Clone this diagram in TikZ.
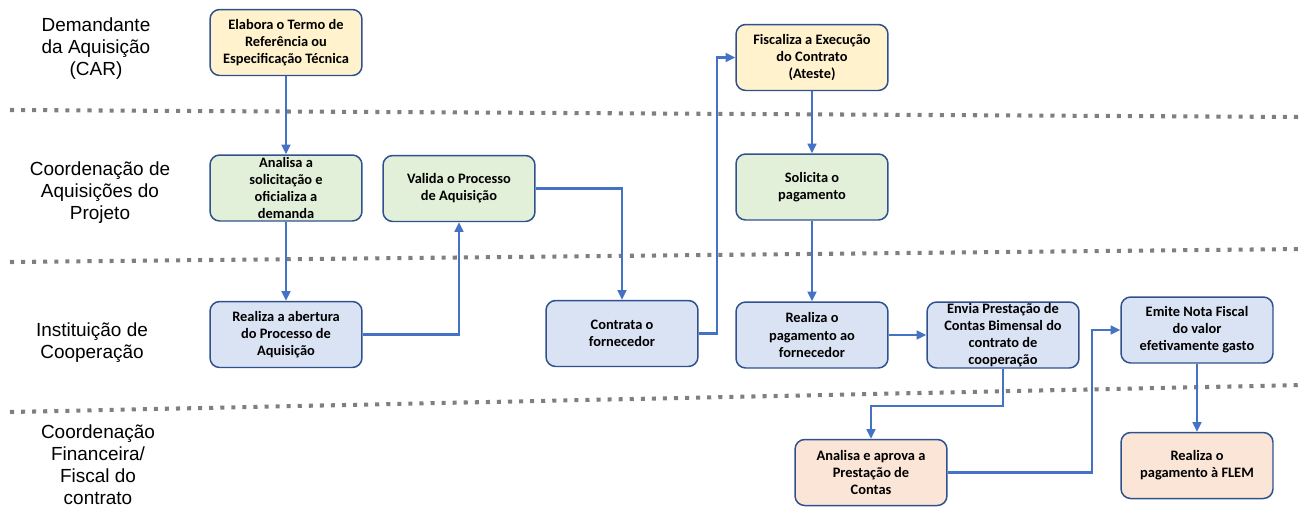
\documentclass[tikz,border=0pt]{standalone}
\usepackage{fontspec}
\setmainfont{Liberation Sans}
\newfontfamily\calibri{Carlito}
\usetikzlibrary{arrows.meta}
\definecolor{flowblue}{HTML}{4472C4}
\definecolor{boxborder}{HTML}{2F528F}
\definecolor{lanegray}{HTML}{7F7F7F}
\definecolor{carfill}{HTML}{FFF2CC}
\definecolor{capfill}{HTML}{E2F0D9}
\definecolor{icfill}{HTML}{DAE3F3}
\definecolor{finfill}{HTML}{FBE5D6}

\begin{document}
\begin{tikzpicture}[
        x=0.02cm, y=-0.02cm,
        >={Triangle[length=5.5pt,width=5pt]},
        task/.style={rectangle, draw=boxborder, line width=0.85pt, rounded corners=5.5pt, minimum width=3.04cm, minimum height=1.32cm, align=center, inner sep=0pt, font=\calibri\bfseries\fontsize{8.2}{9.7}\selectfont},
        car_box/.style={task, fill=carfill},
        cap_box/.style={task, fill=capfill},
        inst_box/.style={task, fill=icfill},
        fin_box/.style={task, fill=finfill},
        lane_label/.style={align=center, font=\fontsize{10.8}{12.5}\selectfont},
        lane_line/.style={lanegray, line width=2.3pt, dash pattern=on 2.3pt off 4pt},
        flow/.style={->, flowblue, line width=1.2pt}
    ]
        \useasboundingbox (0,0) rectangle (1302,508);

        % Lanes
        \draw[lane_line] (10,110) -- (1302,117);
        \draw[lane_line] (10,262) -- (1302,249);
        \draw[lane_line] (10,412) -- (1302,385);

        % Demandante da Aquisicao (CAR)
        \node[car_box] (termo) at (286,42.5) {Elabora o Termo de\\Referência ou\\Especificação Técnica};
        \node[car_box] (fiscaliza) at (812,57.5) {Fiscaliza a Execução\\do Contrato\\(Ateste)};

        % Coordenacao de Aquisicoes do Projeto
        \node[cap_box] (analisa) at (286,188) {Analisa a\\solicitação e\\oficializa a\\demanda};
        \node[cap_box] (valida) at (459,188.5) {Valida o Processo\\de Aquisição};
        \node[cap_box] (solicita) at (812,187) {Solicita o\\pagamento};

        % Instituicao de Cooperacao
        \node[inst_box] (abertura) at (286,334.5) {Realiza a abertura\\do Processo de\\Aquisição};
        \node[inst_box] (contrata) at (622,333.5) {Contrata o\\fornecedor};
        \node[inst_box] (pagamento) at (812,335) {Realiza o\\pagamento ao\\fornecedor};
        \node[inst_box] (envia) at (1003,335) {Envia Prestação de\\Contas Bimensal do\\contrato de\\cooperação};
        \node[inst_box] (emite) at (1197,330) {Emite Nota Fiscal\\do valor\\efetivamente gasto};

        % Coordenacao Financeira / Fiscal do contrato
        \node[fin_box] (aprova) at (871,472.5) {Analisa e aprova a\\Prestação de\\Contas};
        \node[fin_box] (flem) at (1197,465.5) {Realiza o\\pagamento à FLEM};

        % Flow
        \draw[flow] (termo) -- (analisa);
        \draw[flow] (analisa) -- (abertura);
        \draw[flow] (abertura.east) -| (valida.south);
        \draw[flow] (valida.east) -| (contrata.north);
        \draw[flow] (contrata.east) -- ++(18,0) |- (fiscaliza.west);
        \draw[flow] (fiscaliza) -- (solicita);
        \draw[flow] (solicita) -- (pagamento);
        \draw[flow] (pagamento) -- (envia);
        \draw[flow] (envia.south) -- ++(0,37) -| (aprova.north);
        \draw[flow] (aprova.east) -- ++(144,0) |- (emite.west);
        \draw[flow] (emite) -- (flem);

        % Labels
        \node[lane_label] (lbl_car) at (96,49) {Demandante\\da Aquisição\\(CAR)};
        \node[lane_label] (lbl_cap) at (100,193) {Coordenação de\\Aquisições do\\Projeto};
        \node[lane_label] (lbl_inst) at (92,343) {Instituição de\\Cooperação};
        \node[lane_label] (lbl_fin) at (98,465) {Coordenação\\Financeira/\\Fiscal do\\contrato};

    \end{tikzpicture}
\end{document}
